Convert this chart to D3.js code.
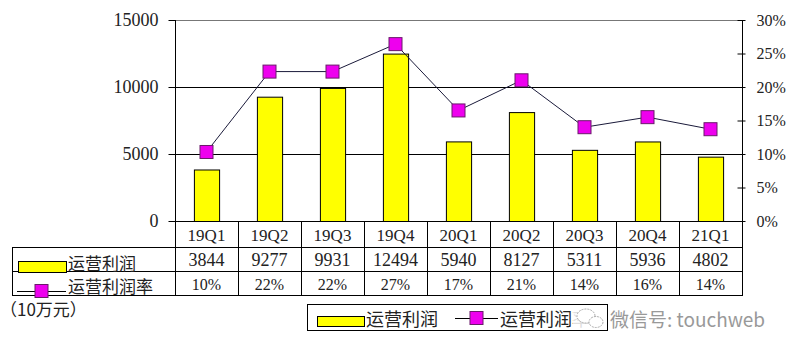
<!DOCTYPE html>
<html>
<head>
<meta charset="utf-8">
<script src="https://cdn.jsdelivr.net/npm/d3@7"></script>
<style>
  body { margin: 0; background: #fff; }
  svg text { font-family: "Liberation Serif", "Noto Sans CJK SC", serif; }
  svg text.cjk { font-family: "Noto Sans CJK SC", sans-serif; }
</style>
</head>
<body>
<svg id="main"></svg>
<script>
//--------data----------
let quarters = ['19Q1','19Q2','19Q3','19Q4','20Q1','20Q2','20Q3','20Q4','21Q1'];
let profit = [3844, 9277, 9931, 12494, 5940, 8127, 5311, 5936, 4802];
let margin = [0.103, 0.223, 0.223, 0.264, 0.165, 0.21, 0.14, 0.155, 0.137];
let marginLabels = ['10%','22%','22%','27%','17%','21%','14%','16%','14%'];
let leftTicks = [0, 5000, 10000, 15000];
let rightTicks = [0, 0.05, 0.1, 0.15, 0.2, 0.25, 0.3];
let seriesNames = ['运营利润', '运营利润率'];

//--------code----------
let width = 791, height = 351;
let svg = d3.select('#main')
.attr('width', width)
.attr('height', height);

let plot = {left: 175, right: 742, top: 20, bottom: 221};
let rowBottom = [247, 271, 295];
let tableLeft = 12;

let sx = d3.scaleBand().domain(quarters).range([plot.left, plot.right])
.paddingInner(0.6).paddingOuter(0.3);
let cx = d3.scaleBand().domain(quarters).range([plot.left, plot.right]).padding(0);
let sy = d3.scaleLinear().domain([0, 15000]).range([plot.bottom, plot.top]);
let sr = d3.scaleLinear().domain([0, 0.3]).range([plot.bottom, plot.top]);

// gridlines
svg.selectAll('.grid')
.data(leftTicks.filter(d=>d>0))
.join('line')
.attr('class', 'grid')
.attr('x1', plot.left).attr('x2', plot.right)
.attr('y1', d=>sy(d)+0.5).attr('y2', d=>sy(d)+0.5)
.attr('stroke', d=>d===15000 ? '#777' : '#000')
.attr('stroke-width', 1);

// left axis
let ay = d3.axisLeft(sy).tickValues(leftTicks).tickFormat(d3.format('d')).tickSize(7).tickPadding(10);
let gy = svg.append('g')
.attr('transform', `translate(${plot.left+0.5},0)`)
.call(ay);
gy.select('.domain').remove();
gy.selectAll('text').style('font-size', '18px').style('fill', '#222');

// right axis
let ar = d3.axisRight(sr).tickValues(rightTicks).tickFormat(d3.format('.0%')).tickSize(3).tickPadding(11);
let gr = svg.append('g')
.attr('transform', `translate(${plot.right+0.5},0)`)
.call(ar);
gr.select('.domain').remove();
gr.selectAll('.tick line').attr('x1', -5);
gr.selectAll('text').style('font-size', '16px').style('fill', '#222');

// bars
svg.selectAll('.bar')
.data(profit)
.join('rect')
.attr('class', 'bar')
.attr('x', (d,i)=>sx(quarters[i])+0.5)
.attr('y', d=>sy(d)+0.5)
.attr('width', sx.bandwidth())
.attr('height', d=>plot.bottom - sy(d))
.attr('fill', '#ffff00')
.attr('stroke', '#000')
.attr('stroke-width', 1);

// margin line
let line = d3.line()
.x((d,i)=>sx(quarters[i]) + sx.bandwidth()/2)
.y(d=>sr(d));
svg.append('path')
.datum(margin)
.attr('d', line)
.attr('fill', 'none')
.attr('stroke', '#1a1a3a')
.attr('stroke-width', 1);

let ms = 13;
svg.selectAll('.marker')
.data(margin)
.join('rect')
.attr('class', 'marker')
.attr('x', (d,i)=>sx(quarters[i]) + sx.bandwidth()/2 - ms/2)
.attr('y', d=>sr(d) - ms/2)
.attr('width', ms).attr('height', ms)
.attr('fill', '#ee00ee')
.attr('stroke', '#6a1a6a')
.attr('stroke-width', 1);

// table lines
let tl = svg.append('g').attr('stroke', '#000').attr('stroke-width', 1);
tl.append('line').attr('x1', plot.left+0.5).attr('x2', plot.left+0.5)
.attr('y1', plot.top).attr('y2', rowBottom[2]+0.5);
tl.append('line').attr('x1', plot.right+0.5).attr('x2', plot.right+0.5)
.attr('y1', plot.top).attr('y2', rowBottom[2]+0.5);
tl.append('line').attr('x1', plot.left).attr('x2', plot.right+1)
.attr('y1', plot.bottom+0.5).attr('y2', plot.bottom+0.5);
tl.selectAll('.row')
.data(rowBottom)
.join('line')
.attr('x1', tableLeft)
.attr('x2', plot.right+1)
.attr('y1', d=>d+0.5).attr('y2', d=>d+0.5);
tl.append('line').attr('x1', tableLeft+0.5).attr('x2', tableLeft+0.5)
.attr('y1', rowBottom[0]).attr('y2', rowBottom[2]+1);
tl.selectAll('.col')
.data(quarters.slice(1))
.join('line')
.attr('x1', d=>cx(d)+0.5).attr('x2', d=>cx(d)+0.5)
.attr('y1', plot.bottom).attr('y2', rowBottom[2]+1);

// table text
let rows = [
  {y: (plot.bottom+rowBottom[0])/2, vals: quarters, size: 17},
  {y: (rowBottom[0]+rowBottom[1])/2, vals: profit.map(String), size: 18},
  {y: (rowBottom[1]+rowBottom[2])/2, vals: marginLabels, size: 16}
];
for(let r of rows){
  svg.append('g').selectAll('text')
  .data(r.vals)
  .join('text')
  .attr('x', (d,i)=>cx(quarters[i]) + cx.bandwidth()/2)
  .attr('y', r.y+1)
  .attr('text-anchor', 'middle')
  .attr('dominant-baseline', 'central')
  .style('font-size', r.size+'px')
  .style('fill', '#222')
  .text(d=>d);
}

// table legend keys
function barKey(g, x, y, w, h){
  g.append('rect').attr('x', x+0.5).attr('y', y+0.5).attr('width', w).attr('height', h)
  .attr('fill', '#ffff00').attr('stroke', '#000').attr('stroke-width', 1);
}
function lineKey(g, x, y, w){
  g.append('line').attr('x1', x).attr('x2', x+w).attr('y1', y+0.5).attr('y2', y+0.5)
  .attr('stroke', '#000').attr('stroke-width', 1);
  g.append('rect').attr('x', x+w/2-ms/2).attr('y', y-ms/2).attr('width', ms).attr('height', ms)
  .attr('fill', '#ee00ee').attr('stroke', '#6a1a6a').attr('stroke-width', 1);
}
barKey(svg, 18, 261, 48, 11);
svg.append('text').attr('class', 'cjk').attr('x', 68).attr('y', 262)
.attr('dominant-baseline', 'central').style('font-size', '17px').style('fill', '#222')
.text(seriesNames[0]);
lineKey(svg, 17, 291, 49);
svg.append('text').attr('class', 'cjk').attr('x', 68).attr('y', 285)
.attr('dominant-baseline', 'central').style('font-size', '17px').style('fill', '#222')
.text(seriesNames[1]);

// unit
svg.append('text').attr('class', 'cjk').attr('x', 0).attr('y', 308)
.attr('dominant-baseline', 'central').style('font-size', '17px').style('fill', '#222')
.text('（10万元）');

// bottom legend
let lg = svg.append('g');
lg.append('rect').attr('x', 307.5).attr('y', 304.5).attr('width', 300).attr('height', 26)
.attr('fill', '#fff').attr('stroke', '#000').attr('stroke-width', 1);
barKey(lg, 317, 316, 47, 10);
lg.append('text').attr('class', 'cjk').attr('x', 366).attr('y', 318)
.attr('dominant-baseline', 'central').style('font-size', '18px').style('fill', '#222')
.text(seriesNames[0]);
lineKey(lg, 455, 318, 43);
lg.append('text').attr('class', 'cjk').attr('x', 500).attr('y', 318)
.attr('dominant-baseline', 'central').style('font-size', '18px').style('fill', '#222')
.text(seriesNames[1]);

// watermark
let wm = svg.append('g');
wm.append('rect').attr('x', 573).attr('y', 306).attr('width', 34).attr('height', 24).attr('fill', '#fff').attr('opacity', 0.85);
wm.append('ellipse').attr('cx', 586).attr('cy', 316).attr('rx', 9).attr('ry', 7)
.attr('fill', '#fff').attr('stroke', '#aaa').attr('stroke-dasharray', '2,1');
wm.append('ellipse').attr('cx', 596).attr('cy', 322).attr('rx', 7).attr('ry', 5.5)
.attr('fill', '#fff').attr('stroke', '#aaa').attr('stroke-dasharray', '2,1');
wm.append('text').attr('class', 'cjk').attr('x', 610).attr('y', 318)
.attr('dominant-baseline', 'central').style('font-size', '19px').style('fill', '#999')
.text('微信号: touchweb');
</script>
</body>
</html>
